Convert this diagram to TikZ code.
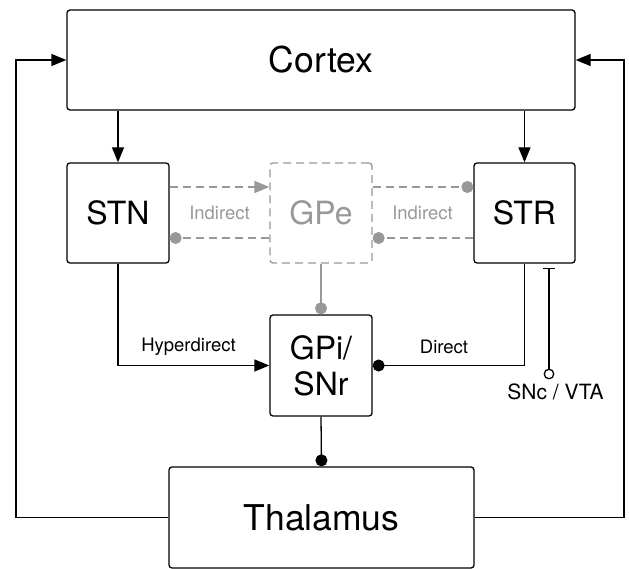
\documentclass[tikz,border=0pt]{standalone}
\usepackage{fontspec}
\setmainfont{TeX Gyre Heros}
\usetikzlibrary{arrows.meta}
\definecolor{gpegray}{RGB}{152,152,152}
\begin{document}
\begin{tikzpicture}[x=1pt,y=-1pt,
  box/.style={draw=black,line width=1.3pt,rounded corners=3pt,inner sep=0pt,align=center},
  bigtext/.style={font=\fontsize{35.5}{40}\selectfont},
  midtext/.style={font=\fontsize{32}{36}\selectfont},
  lbl/.style={font=\fontsize{18.5}{20}\selectfont,inner sep=0pt},
  conn/.style={line width=1.3pt,black},
  excite/.style={-{Triangle[length=15pt,width=12pt]}},
  inhib/.style={-{Circle[length=12pt]}},
  gline/.style={line width=1.3pt,draw=gpegray},
  gdash/.style={gline,dash pattern=on 8pt off 5pt},
  opendot/.style={circle,draw=black,fill=white,line width=1.3pt,minimum size=9.5pt,inner sep=0pt},
]
\useasboundingbox (0,0) rectangle (629,569);
\node[box,bigtext,minimum width=508pt,minimum height=100pt] (cortex) at (321,60) {Cortex};
\node[box,midtext,minimum width=102pt,minimum height=100pt] (stn) at (118,213) {STN};
\node[box,midtext,minimum width=102pt,minimum height=100pt,draw=gpegray,dash pattern=on 8pt off 5pt,text=gpegray] (gpe) at (321,213) {GPe};
\node[box,midtext,minimum width=101pt,minimum height=100pt] (str) at (524.5,213) {STR};
\node[box,midtext,minimum width=102pt,minimum height=101pt] (gpi) at (321,365.5) {GPi/\\SNr};
\node[box,bigtext,minimum width=305pt,minimum height=101pt] (thal) at (321.5,517.5) {Thalamus};

% cortex to STN / STR
\draw[conn,excite] (cortex.south -| stn.north) -- (stn.north);
\draw[conn,excite] (cortex.south -| str.north) -- (str.north);

% indirect (gray dashed)
\draw[gdash,excite,gpegray] ([yshift=26pt]stn.east) -- ([yshift=26pt]gpe.west);
\draw[gdash,inhib,gpegray] ([yshift=-25pt]gpe.west) -- ([yshift=-25pt]stn.east);
\draw[gdash,inhib,gpegray] ([yshift=26pt]gpe.east) -- ([yshift=26pt]str.west);
\draw[gdash,inhib,gpegray] ([yshift=-25pt]str.west) -- ([yshift=-25pt]gpe.east);
\node[lbl,text=gpegray] (ind1) at (219.5,213) {Indirect};
\node[lbl,text=gpegray] (ind2) at (422.5,213) {Indirect};

% GPe to GPi
\draw[gline,inhib,gpegray] (gpe.south) -- (gpi.north);

% hyperdirect and direct
\draw[conn,excite] (stn.south) |- (gpi.west);
\draw[conn,inhib] (str.south) |- (gpi.east);
\node[lbl] (hyper) at (188.5,347) {Hyperdirect};
\node[lbl] (direct) at (444,347) {Direct};

% GPi to thalamus
\draw[conn,inhib] (gpi.south) -- (thal.north);

% feedback loops
\coordinate (lx) at (16,0);
\coordinate (rx) at (624,0);
\draw[conn,excite] (thal.west) -- (thal.west -| lx) -- (cortex.west -| lx) -- (cortex.west);
\draw[conn,excite] (thal.east) -- (thal.east -| rx) -- (cortex.east -| rx) -- (cortex.east);

% SNc / VTA
\node[opendot] (sncdot) at (549,374) {};
\coordinate (sncend) at (549,268);
\draw[conn,-{Bar[width=12pt,line width=1.3pt]}] (sncdot.north) -- (sncend);
\node[font=\fontsize{21}{22}\selectfont,inner sep=0pt] (snc) at (555.5,391.5) {SNc / VTA};
\end{tikzpicture}
\end{document}
